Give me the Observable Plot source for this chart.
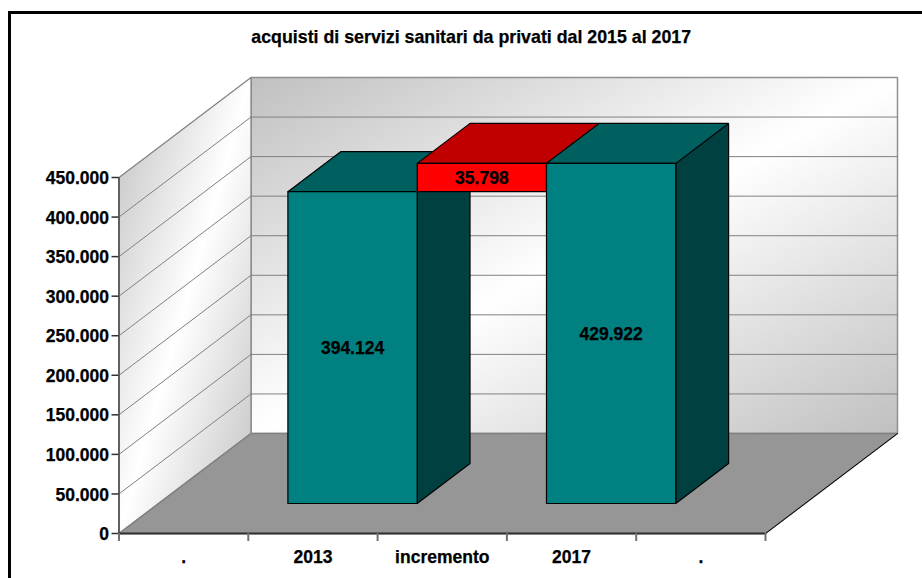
<!DOCTYPE html>
<html>
<head>
<meta charset="utf-8">
<script src="https://cdn.jsdelivr.net/npm/d3@7"></script>
<script src="https://cdn.jsdelivr.net/npm/@observablehq/plot@0.6"></script>
<style>
html,body{margin:0;padding:0;background:#fff;overflow:hidden}
#c{position:absolute;left:0;top:0;width:922px;height:578px;overflow:hidden}
#b{position:absolute;left:8px;top:11px;width:1000px;height:700px;border:3px solid #000;box-sizing:border-box}
#p{position:absolute;left:0;top:0}
svg text{stroke:#000;stroke-width:.25px}
</style>
</head>
<body>
<div id="c"><div id="b"></div><div id="p"></div></div>
<script>
const titleText = "acquisti di servizi sanitari da privati dal 2015 al 2017";
const categories = [".", "2013", "incremento", "2017", "."];
const barSlot = [1, 2, 3];
const barBase = [0, 394124, 0];
const barValue = [394124, 35798, 429922];
const frontFill = ["#008080", "#ff0000", "#008080"];
const topFill = ["#006060", "#c00000", "#006060"];
const sideFill = ["#004040", "#c00000", "#004040"];
const yTicks = [0, 50000, 100000, 150000, 200000, 250000, 300000, 350000, 400000, 450000];
const xBounds = [0, 1, 2, 3, 4, 5];
const yMax = 450000;

// oblique projection of the 3D box: a depth of 1 moves this far in scale units
const depthX = 132 / ((765 - 118.5) / 5);
const depthY = 100 * yMax / 356;
const barFrontDepth = 0.3, barBackDepth = 0.7;
const pt = (c, v, d, id, fill) => ({x: c + d * depthX, y: v + d * depthY, id, fill});
const poly = (id, fill, corners) => {
  const a = corners.map(([c, v, d]) => pt(c, v, d, id, fill));
  return [...a, a[0]];
};

const fmt = v => d3.format(",")(v).replace(/,/g, ".");

const faces = [];
barSlot.forEach((c, i) => {
  const b0 = barBase[i], b1 = b0 + barValue[i], f = barFrontDepth, k = barBackDepth;
  faces.push(...poly("s" + i, sideFill[i], [[c + 1, b0, f], [c + 1, b0, k], [c + 1, b1, k], [c + 1, b1, f]]));
  faces.push(...poly("t" + i, topFill[i], [[c, b1, f], [c + 1, b1, f], [c + 1, b1, k], [c, b1, k]]));
  faces.push(...poly("f" + i, frontFill[i], [[c, b0, f], [c + 1, b0, f], [c + 1, b1, f], [c, b1, f]]));
});
const labels = barSlot.map((c, i) => ({
  ...pt(c + 0.5, barBase[i] + barValue[i] / 2, barFrontDepth),
  t: fmt(barValue[i])
}));

const leftGrid = yTicks.slice(1, -1).flatMap(v => [pt(0, v, 0, v), pt(0, v, 1, v)]);
const backGrid = yTicks.slice(1, -1).flatMap(v => [pt(0, v, 1, v), pt(5, v, 1, v)]);

const gradients = () => {
  const defs = d3.create("svg:defs");
  const g1 = defs.append("linearGradient").attr("id", "wall").attr("x1", 0).attr("y1", 0).attr("x2", 1).attr("y2", 1);
  [[0, "#c0c0c0"], [0.5, "#ffffff"], [1, "#c0c0c0"]].forEach(([o, c]) =>
    g1.append("stop").attr("offset", o).attr("stop-color", c));
  return defs.node();
};

const lineOpts = {x: "x", y: "y", curve: "linear", strokeLinejoin: "miter"};

const chart = Plot.plot({
  width: 922,
  height: 578,
  marginLeft: 118.5,
  marginRight: 157,
  marginTop: 177,
  marginBottom: 45,
  x: {domain: [0, 5]},
  y: {domain: [0, yMax]},
  color: {type: "identity"},
  style: {fontFamily: "'Liberation Sans', Arial, sans-serif", fontWeight: "bold", fontSize: "17.5px", background: "transparent", color: "#000"},
  marks: [
    gradients,
    // back wall
    Plot.line(poly("b", "", [[0, 0, 1], [5, 0, 1], [5, yMax, 1], [0, yMax, 1]]),
      {...lineOpts, fill: "url(#wall)", stroke: "#909090", strokeWidth: 1.5}),
    // side wall
    Plot.line(poly("l", "", [[0, 0, 0], [0, 0, 1], [0, yMax, 1], [0, yMax, 0]]),
      {...lineOpts, fill: "url(#wall)", stroke: "#808080", strokeWidth: 1.2}),
    // grid
    Plot.line(leftGrid, {...lineOpts, z: "id", stroke: "#808080", strokeWidth: 1}),
    Plot.line(backGrid, {...lineOpts, z: "id", stroke: "#808080", strokeWidth: 1}),
    // floor
    Plot.line(poly("fl", "", [[0, 0, 0], [5, 0, 0], [5, 0, 1], [0, 0, 1]]),
      {...lineOpts, fill: "#969696", stroke: "#808080", strokeWidth: 1.5}),
    Plot.line([pt(5, 0, 0), pt(5, 0, 1)], {...lineOpts, stroke: "#000", strokeWidth: 1}),
    // bars
    Plot.line(faces, {...lineOpts, z: "id", fill: "fill", stroke: "#000", strokeWidth: 1.2}),
    Plot.text(labels, {x: "x", y: "y", text: "t", dy: 1, fill: "#000", fontWeight: "bold", fontSize: 17.5}),
    // axes
    Plot.ruleX([0], {y1: 0, y2: yMax, stroke: "#606060", strokeWidth: 2}),
    Plot.ruleY([0], {x1: 0, x2: 5, stroke: "#303030", strokeWidth: 2}),
    Plot.axisY({ticks: yTicks, tickFormat: null, text: null, tickSize: 7, label: null, stroke: "#303030", strokeWidth: 1.5}),
    Plot.axisY({ticks: yTicks, tickFormat: fmt, tickSize: 0, tickPadding: 10, dy: 1, label: null, fill: "#000", fontSize: 17.5, fontWeight: "bold", fontVariant: "normal"}),
    Plot.axisX({ticks: xBounds, text: null, tickSize: 8, label: null, stroke: "#707070", strokeWidth: 2}),
    Plot.axisX({ticks: categories.map((d, i) => i + 0.5), tickFormat: v => categories[v - 0.5], tickSize: 0, tickPadding: 17, label: null, fill: "#000", fontSize: 17.5, fontWeight: "bold", fontVariant: "normal"}),
    // title
    Plot.text([titleText], {frameAnchor: "top", dx: 29, dy: -147, fill: "#000", fontWeight: "bold", fontSize: 17.8})
  ]
});
document.getElementById("p").appendChild(chart);
</script>
</body>
</html>
